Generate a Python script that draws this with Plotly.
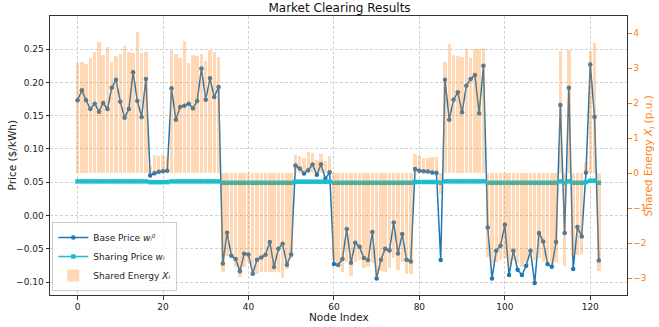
import plotly.graph_objects as go

node_index = list(range(123))

base_price = [
    0.173, 0.188, 0.173, 0.160, 0.168, 0.156, 0.169, 0.160, 0.192, 0.204,
    0.171, 0.147, 0.160, 0.215, 0.172, 0.148, 0.205, 0.060, 0.0636, 0.0656,
    0.0666, 0.0671, 0.191, 0.144, 0.163, 0.165, 0.168, 0.161, 0.172, 0.221,
    0.174, 0.206, 0.178, 0.193, -0.072, -0.026, -0.0605, -0.0655, -0.084, -0.0575,
    -0.0585, -0.0875, -0.0665, -0.063, -0.059, -0.040, -0.0775, -0.050, -0.0425, -0.074,
    -0.0585, 0.075, 0.0705, 0.063, 0.068, 0.0765, 0.061, 0.077, 0.055, 0.065,
    -0.073, -0.0745, -0.0655, -0.0205, -0.071, -0.041, -0.047, -0.064, -0.067, -0.025,
    -0.0946, -0.0665, -0.050, -0.0525, -0.0104, -0.057, -0.028, -0.0665, -0.069, 0.070,
    0.067, 0.0666, 0.066, 0.0646, 0.064, -0.067, 0.204, 0.144, 0.174, 0.185,
    0.155, 0.195, 0.205, 0.211, 0.1535, 0.225, -0.018, -0.0946, -0.053, -0.0455,
    -0.014, -0.0895, -0.053, -0.0815, -0.0895, -0.0755, -0.053, -0.1016, -0.0265, -0.039,
    -0.073, -0.077, -0.040, 0.166, -0.0265, 0.192, -0.0805, -0.0175, -0.0315, 0.0646,
    0.227, 0.148, -0.0675,
]

sharing_price = [
    0.0512, 0.0512, 0.0512, 0.0512, 0.0512, 0.0512, 0.0512, 0.0512, 0.0512, 0.0512,
    0.0512, 0.0512, 0.0512, 0.0512, 0.0512, 0.0512, 0.0512, 0.0500, 0.0500, 0.0500,
    0.0500, 0.0502, 0.0512, 0.0512, 0.0512, 0.0512, 0.0512, 0.0512, 0.0512, 0.0512,
    0.0512, 0.0512, 0.0512, 0.0512, 0.0491, 0.0491, 0.0491, 0.0491, 0.0491, 0.0491,
    0.0491, 0.0491, 0.0491, 0.0491, 0.0491, 0.0491, 0.0491, 0.0491, 0.0491, 0.0491,
    0.0491, 0.0508, 0.0508, 0.0508, 0.0508, 0.0508, 0.0508, 0.0508, 0.0505, 0.0508,
    0.0491, 0.0491, 0.0491, 0.0491, 0.0491, 0.0491, 0.0491, 0.0491, 0.0491, 0.0491,
    0.0491, 0.0491, 0.0491, 0.0491, 0.0491, 0.0491, 0.0491, 0.0491, 0.0491, 0.0503,
    0.0503, 0.0503, 0.0503, 0.0503, 0.0503, 0.0491, 0.0512, 0.0512, 0.0512, 0.0512,
    0.0512, 0.0512, 0.0512, 0.0512, 0.0512, 0.0514, 0.0491, 0.0491, 0.0491, 0.0491,
    0.0491, 0.0491, 0.0491, 0.0491, 0.0491, 0.0491, 0.0491, 0.0491, 0.0491, 0.0491,
    0.0491, 0.0491, 0.0491, 0.0512, 0.0491, 0.0512, 0.0491, 0.0491, 0.0491, 0.0502,
    0.0522, 0.0522, 0.0491,
]

shared_energy = [
    3.16, 3.19, 3.12, 3.30, 3.45, 3.75, 3.39, 3.61, 3.17, 3.35,
    3.40, 3.64, 3.45, 3.44, 4.02, 3.42, 3.46, 0.21, 0.52, 0.48,
    0.52, 0.45, 3.52, 3.40, 3.30, 3.78, 3.16, 3.39, 3.35, 3.41,
    3.21, 3.51, 3.45, 3.33, -2.83, -2.38, -2.43, -2.67, -2.97, -2.67,
    -2.53, -2.91, -2.88, -2.83, -2.83, -2.81, -2.83, -2.81, -3.00, -2.73,
    -2.43, 0.52, 0.49, 0.43, 0.60, 0.57, 0.38, 0.55, 0.36, 0.49,
    -2.48, -2.67, -2.81, -2.53, -2.95, -2.53, -2.48, -2.72, -2.67, -2.57,
    -3.00, -2.79, -2.83, -2.72, -2.43, -2.76, -2.53, -2.88, -2.88, 0.55,
    0.52, 0.42, 0.44, 0.475, 0.475, -0.60, 3.19, 3.69, 3.38, 3.35,
    3.31, 3.55, 3.28, 3.55, 3.55, 3.58, -2.40, -2.57, -2.53, -2.48,
    -2.43, -2.67, -2.48, -2.57, -2.67, -2.53, -2.43, -2.48, -2.43, -2.53,
    -2.57, -2.57, -2.53, 3.48, -2.65, 3.52, -2.38, -2.33, -2.32, 0.31,
    3.48, 3.71, -2.78,
]

x_ticks = [0, 20, 40, 60, 80, 100, 120]
left_ticks = [-0.10, -0.05, 0.00, 0.05, 0.10, 0.15, 0.20, 0.25, 0.30]
right_ticks = [-3, -2, -1, 0, 1, 2, 3, 4]

BLUE = "#1f77b4"
CYAN = "#17becf"
ORANGE = "#ff7f0e"
FONT = "DejaVu Sans"

fig = go.Figure()

fig.add_trace(go.Scatter(
    x=node_index, y=base_price, mode="lines+markers",
    name="Base Price <i>w\u1d62\u2070</i>",
    line=dict(color=BLUE, width=1.5),
    marker=dict(color=BLUE, size=4.5, symbol="circle"),
    yaxis="y", legendrank=1,
))
fig.add_trace(go.Scatter(
    x=node_index, y=sharing_price, mode="lines+markers",
    name="Sharing Price <i>w\u1d62</i>",
    line=dict(color=CYAN, width=1.5),
    marker=dict(color=CYAN, size=4.5, symbol="square"),
    yaxis="y", legendrank=2,
))
fig.add_trace(go.Bar(
    x=node_index, y=shared_energy, width=0.8,
    name="Shared Energy <i>X\u1d62</i>",
    marker=dict(color="rgba(255,127,14,0.3)", line=dict(width=0)),
    yaxis="y2", legendrank=3,
))

axis_line = "#333333"
GRID = "#d0d0d0"

fig.update_layout(
    width=659, height=327,
    margin=dict(l=50, r=30, t=16, b=32),
    paper_bgcolor="white", plot_bgcolor="white",
    font=dict(family=FONT, size=9, color="#222222"),
    bargap=0,
    title=dict(text="Market Clearing Results", x=0.5152, xanchor="center",
               y=0.976, yanchor="middle", font=dict(size=12, color="#111111")),
    xaxis=dict(
        range=[-6.45, 128.6], tickmode="array", tickvals=x_ticks,
        showgrid=True, gridcolor=GRID, griddash="3px,2px", gridwidth=0.7,
        showline=True, linecolor=axis_line, linewidth=1, mirror=True,
        ticks="outside", ticklen=3.5, tickcolor=axis_line, zeroline=False,
    ),
    yaxis=dict(
        range=[-0.1195, 0.2997], tickmode="array", tickvals=left_ticks,
        tickformat=".2f",
        showgrid=True, gridcolor=GRID, griddash="3px,2px", gridwidth=0.7,
        showline=True, linecolor=axis_line, linewidth=1,
        ticks="outside", ticklen=3.5, tickcolor=axis_line, zeroline=False,
    ),
    yaxis2=dict(
        range=[-3.48, 4.49], tickmode="array", tickvals=right_ticks,
        overlaying="y", side="right", showgrid=False, zeroline=False,
        showline=True, linecolor=axis_line, linewidth=1,
        ticks="outside", ticklen=3.5, tickcolor=ORANGE,
        tickfont=dict(color=ORANGE, size=9),
    ),
    legend=dict(
        x=0.004, y=0.014, xanchor="left", yanchor="bottom",
        bgcolor="rgba(255,255,255,0.85)", bordercolor="#cccccc", borderwidth=1,
        font=dict(size=9, color="#222222"), tracegroupgap=0,
        itemwidth=30,
    ),
    annotations=[
        dict(text="Price ($/kWh)", xref="paper", yref="paper",
             x=-0.066, y=0.5, textangle=-90, showarrow=False,
             xanchor="center", yanchor="middle", font=dict(size=10.5, color="#222222")),
        dict(text="Shared Energy <i>X<sub>i</sub></i> (p.u.)", xref="paper", yref="paper",
             x=1.038, y=0.5, textangle=-90, showarrow=False,
             xanchor="center", yanchor="middle", font=dict(size=10.5, color=ORANGE)),
        dict(text="Node Index", xref="paper", yref="paper",
             x=0.5, y=-0.05, showarrow=False,
             xanchor="center", yanchor="top", font=dict(size=10.5, color="#222222")),
    ],
)

fig.write_html(
    "out.html",
    config={"displayModeBar": False},
    post_script="document.body.style.margin='0px';document.body.style.padding='0px';",
)
